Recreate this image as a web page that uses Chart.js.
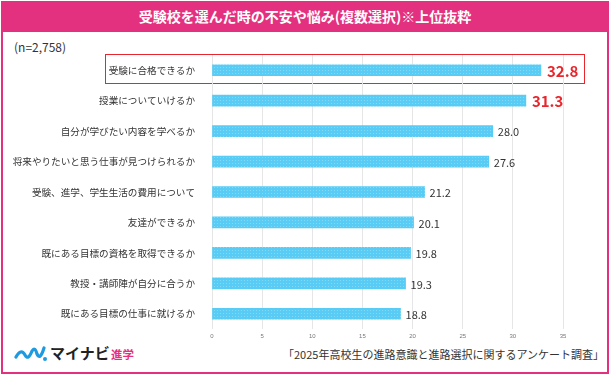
<!DOCTYPE html>
<html>
<head>
<meta charset="utf-8">
<script src="https://cdn.jsdelivr.net/npm/chart.js@4"></script>
<style>
  body { margin: 0; background: #fff; font-family: "Noto Sans CJK JP", sans-serif; }
  #wrap { position: relative; width: 613px; height: 376px; overflow: hidden; }
  #frame { position: absolute; left: 1px; top: 1px; width: 604px; height: 369px; border: 2px solid #e4317f; box-sizing: content-box; }
  #title { position: absolute; left: 1px; top: 1px; width: 608px; height: 31px; background: #e4317f; color: #fff;
           font-size: 14px; font-weight: bold; text-align: center; line-height: 31px; }
  #n { position: absolute; left: 14px; top: 38px; font-size: 12px; color: #333; }
  #hl { position: absolute; left: 105px; top: 54px; width: 478px; height: 28px; border: 1.5px solid #e8262c; }
  #src { position: absolute; right: 9px; top: 346px; font-size: 11px; color: #333; }
  #logo { position: absolute; left: 14px; top: 342px; height: 22px; }
  canvas { position: absolute; left: 0; top: 0; }
</style>
</head>
<body>
<div id="wrap">
  <div id="frame"></div>
  <div id="title">受験校を選んだ時の不安や悩み(複数選択)※上位抜粋</div>
  <div id="n">(n=2,758)</div>
  <div id="hl"></div>
  <div id="logo">
    <svg width="130" height="22" viewBox="0 0 130 22">
      <path d="M2 15 Q7 6 11 13 Q14 19 18 9 Q21 4 23 12 Q26 19 30 6" fill="none" stroke="#1e9be0" stroke-width="3.2" stroke-linecap="round"/>
      <circle cx="31" cy="17" r="2" fill="#1e9be0"/>
      <text x="36" y="17" font-size="15" font-weight="bold" fill="#222" font-family="Noto Sans CJK JP">マイナビ</text>
      <text x="97" y="17" font-size="11.5" font-weight="bold" fill="#e4317f" font-family="Noto Sans CJK JP">進学</text>
    </svg>
  </div>
  <div id="src">「2025年高校生の進路意識と進路選択に関するアンケート調査」</div>
  <canvas id="myChart" width="613" height="376"></canvas>
</div>
<script>
var categories = [
  "受験に合格できるか",
  "授業についていけるか",
  "自分が学びたい内容を学べるか",
  "将来やりたいと思う仕事が見つけられるか",
  "受験、進学、学生生活の費用について",
  "友達ができるか",
  "既にある目標の資格を取得できるか",
  "教授・講師陣が自分に合うか",
  "既にある目標の仕事に就けるか"
];
var values = [32.8, 31.3, 28.0, 27.6, 21.2, 20.1, 19.8, 19.3, 18.8];
var highlighted = [true, true, false, false, false, false, false, false, false];
var xTicks = [0, 5, 10, 15, 20, 25, 30, 35];

// dotted bar fill
function dotPattern() {
  var c = document.createElement("canvas");
  c.width = 3; c.height = 3;
  var g = c.getContext("2d");
  g.fillStyle = "#58ccf4";
  g.fillRect(0, 0, 3, 3);
  g.fillStyle = "#84d9f7";
  g.fillRect(1, 1, 1, 1);
  return g.createPattern(c, "repeat");
}

var valueLabels = {
  id: "valueLabels",
  afterDatasetsDraw: function(chart) {
    var ctx = chart.ctx;
    var meta = chart.getDatasetMeta(0);
    meta.data.forEach(function(bar, i) {
      ctx.save();
      ctx.textBaseline = "middle";
      if (highlighted[i]) {
        ctx.fillStyle = "#e8262c";
        ctx.font = "bold 15px 'Noto Sans CJK JP'";
      } else {
        ctx.fillStyle = "#333";
        ctx.font = "11px 'Noto Sans CJK JP'";
      }
      ctx.fillText(values[i].toFixed(1), bar.x + (highlighted[i] ? 6 : 5), bar.y + 1);
      ctx.restore();
    });
  }
};

new Chart("myChart", {
  type: "bar",
  data: {
    labels: categories,
    datasets: [{
      data: values,
      backgroundColor: dotPattern(),
      barThickness: 11,
      borderWidth: 0
    }]
  },
  options: {
    indexAxis: "y",
    responsive: false,
    animation: false,
    layout: { padding: { top: 55, right: 50, bottom: 35, left: 0 } },
    plugins: { legend: { display: false }, tooltip: { enabled: false } },
    scales: {
      x: {
        min: 0, max: 35,
        afterBuildTicks: function(axis) { axis.ticks = xTicks.map(function(v) { return { value: v }; }); },
        grid: { color: "#e6e6e6", drawTicks: false },
        border: { display: false },
        ticks: { font: { size: 6 }, color: "#777", padding: 4 },
        afterFit: function(axis) { axis.height = 12; }
      },
      y: {
        grid: { display: false },
        border: { display: false },
        ticks: { font: { size: 9.6, family: "Noto Sans CJK JP" }, color: "#333", padding: 9 },
        afterFit: function(axis) { axis.width = 212; }
      }
    }
  },
  plugins: [valueLabels]
});
</script>
</body>
</html>
